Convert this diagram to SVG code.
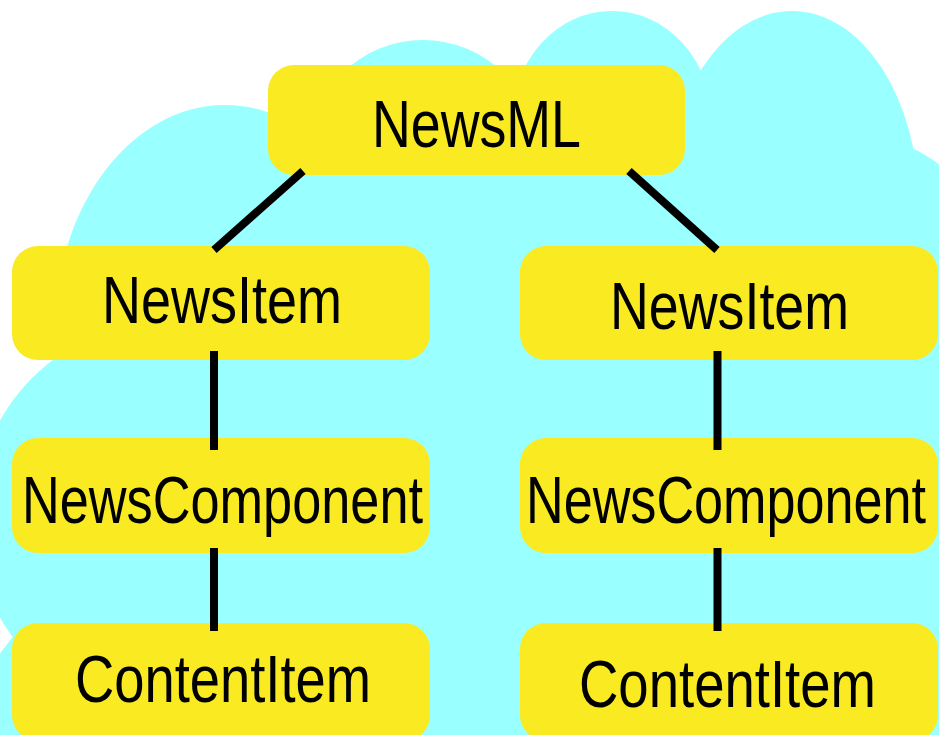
<svg xmlns="http://www.w3.org/2000/svg" width="939" height="735" viewBox="0 0 939 735">
<style>
.cloud{fill:#99FFFF}
.box{fill:#F9EA22}
.lbl{font-family:"Liberation Sans",Arial,sans-serif;font-size:66px;fill:#000}
.con{stroke:#000;stroke-width:8;stroke-linecap:butt;fill:none}
</style>
<rect width="939" height="735" fill="#FFFFFF"/>
<g id="cloud">
<ellipse class="cloud" cx="225" cy="330" rx="170" ry="225"/>
<circle class="cloud" cx="423" cy="155" r="115"/>
<ellipse class="cloud" cx="612" cy="121" rx="100" ry="110"/>
<ellipse class="cloud" cx="792" cy="206" rx="127" ry="195"/>
<circle class="cloud" cx="847" cy="283" r="150"/>
<circle class="cloud" cx="174" cy="519" r="200"/>
<circle class="cloud" cx="164" cy="768" r="200"/>
<rect class="cloud" x="100" y="240" width="839" height="495"/>
<rect class="cloud" x="330" y="120" width="550" height="130"/>
</g>
<g id="n-newsml">
<rect class="box" x="268" y="65" width="417" height="110" rx="26"/>
<text class="lbl" x="372" y="147" textLength="209" lengthAdjust="spacingAndGlyphs">NewsML</text>
</g>
<g id="n-newsitem-1">
<rect class="box" x="12" y="246" width="418" height="114" rx="26"/>
<text class="lbl" x="102" y="323" textLength="240" lengthAdjust="spacingAndGlyphs">NewsItem</text>
</g>
<g id="n-newsitem-2">
<rect class="box" x="520" y="246" width="418" height="114" rx="26"/>
<text class="lbl" x="610" y="329" textLength="239" lengthAdjust="spacingAndGlyphs">NewsItem</text>
</g>
<g id="n-newscomponent-1">
<rect class="box" x="12" y="438" width="418" height="115" rx="26"/>
<text class="lbl" x="22" y="523" textLength="401" lengthAdjust="spacingAndGlyphs">NewsComponent</text>
</g>
<g id="n-newscomponent-2">
<rect class="box" x="520" y="438" width="418" height="115" rx="26"/>
<text class="lbl" x="526" y="523" textLength="400" lengthAdjust="spacingAndGlyphs">NewsComponent</text>
</g>
<g id="n-contentitem-1">
<rect class="box" x="12" y="623" width="418" height="118" rx="26"/>
<text class="lbl" x="75" y="702" textLength="296" lengthAdjust="spacingAndGlyphs">ContentItem</text>
</g>
<g id="n-contentitem-2">
<rect class="box" x="520" y="623" width="418" height="118" rx="26"/>
<text class="lbl" x="579" y="707" textLength="297" lengthAdjust="spacingAndGlyphs">ContentItem</text>
</g>
<g id="connectors">
<line class="con" x1="303" y1="171" x2="214" y2="250"/>
<line class="con" x1="629" y1="171" x2="717" y2="250"/>
<line class="con" x1="214" y1="351" x2="214" y2="450"/>
<line class="con" x1="214" y1="548" x2="214" y2="631"/>
<line class="con" x1="717.5" y1="351" x2="717.5" y2="450"/>
<line class="con" x1="717.5" y1="548" x2="717.5" y2="631"/>
</g>
</svg>
